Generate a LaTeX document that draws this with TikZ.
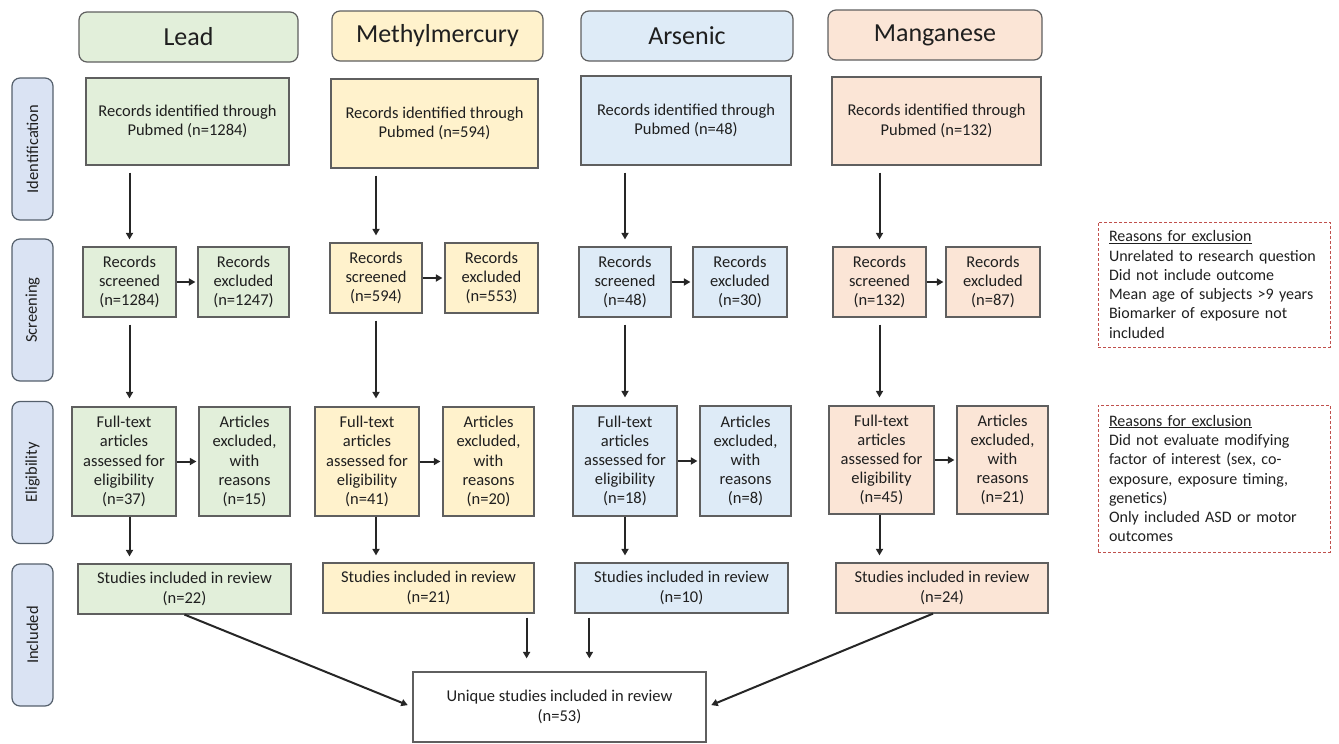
\documentclass[tikz,border=0pt]{standalone}
\usepackage{fontspec}
\setmainfont{Carlito}
\usetikzlibrary{arrows.meta}

\definecolor{leadfill}{HTML}{E2EFDA}
\definecolor{mercfill}{HTML}{FFF2CC}
\definecolor{arsfill}{HTML}{DEEBF7}
\definecolor{mangfill}{HTML}{FBE5D6}
\definecolor{sidefill}{HTML}{DAE3F3}
\definecolor{edge}{HTML}{5F5F5F}
\definecolor{sideedge}{HTML}{55606C}
\definecolor{textcol}{HTML}{1F1F1F}
\definecolor{notered}{HTML}{C0504D}

\begin{document}
\begin{tikzpicture}[x=1pt, y=-1pt,
    box/.style={draw=edge, line width=1.2pt, align=center, inner sep=2pt, text=textcol,
        font=\fontsize{16.5}{19.2}\selectfont},
    header/.style={box, rounded corners=8pt, minimum height=50pt, font=\fontsize{26}{30}\selectfont},
    side/.style={draw=sideedge, fill=sidefill, line width=1.2pt, rounded corners=8pt, rotate=90,
        minimum width=142pt, minimum height=41pt, text=textcol, font=\fontsize{16.5}{19}\selectfont},
    note/.style={draw=notered, line width=1pt, dash pattern=on 3pt off 2pt, align=left, inner xsep=11pt,
        text width=210pt, text=textcol, font=\fontsize{16}{19.3}\selectfont},
    arr/.style={-{Triangle[length=6.5pt,width=7pt]}, line width=2pt, black!85}]
    \useasboundingbox (0,0) rectangle (1339,744);

    % phase labels
    \node[side] (ident) at (32.5,149) {Identification};
    \node[side] (screen) at (32.5,310) {Screening};
    \node[side] (elig) at (32.5,472.5) {Eligibility};
    \node[side] (incl) at (32.5,635) {Included};

    % headers
    \node[header, fill=leadfill, minimum width=219pt] (leadHead) at (188.5,37) {Lead};
    \node[header, fill=mercfill, minimum width=211pt] (mercHead) at (437.5,36) {Methylmercury};
    \node[header, fill=arsfill, minimum width=212pt] (arsHead) at (687,36) {Arsenic};
    \node[header, fill=mangfill, minimum width=214pt] (mangHead) at (935,35) {Manganese};

    % lead
    \node[box, fill=leadfill, minimum width=203pt, minimum height=87pt] (leadId) at (187.5,121.5) {Records identified through\\Pubmed (n=1284)};
    \node[box, fill=leadfill, minimum width=93pt, minimum height=70pt] (leadScr) at (129.5,282) {Records\\screened\\(n=1284)};
    \node[box, fill=leadfill, minimum width=91pt, minimum height=70pt] (leadExc) at (243.5,282) {Records\\excluded\\(n=1247)};
    \node[box, fill=leadfill, minimum width=104pt, minimum height=109pt] (leadFull) at (124,461.5) {Full-text\\articles\\assessed for\\eligibility\\(n=37)};
    \node[box, fill=leadfill, minimum width=91pt, minimum height=109pt] (leadArt) at (244.5,461.5) {Articles\\excluded,\\with\\reasons\\(n=15)};
    \node[box, fill=leadfill, minimum width=213pt, minimum height=50pt] (leadInc) at (184.5,589) {Studies included in review\\(n=22)};

    % methylmercury
    \node[box, fill=mercfill, minimum width=207pt, minimum height=89pt] (mercId) at (434.5,123.5) {Records identified through\\Pubmed (n=594)};
    \node[box, fill=mercfill, minimum width=92pt, minimum height=70pt] (mercScr) at (376,278) {Records\\screened\\(n=594)};
    \node[box, fill=mercfill, minimum width=93pt, minimum height=70pt] (mercExc) at (491.5,278) {Records\\excluded\\(n=553)};
    \node[box, fill=mercfill, minimum width=104pt, minimum height=109pt] (mercFull) at (367,461.5) {Full-text\\articles\\assessed for\\eligibility\\(n=41)};
    \node[box, fill=mercfill, minimum width=91pt, minimum height=109pt] (mercArt) at (488.5,461.5) {Articles\\excluded,\\with\\reasons\\(n=20)};
    \node[box, fill=mercfill, minimum width=211pt, minimum height=50pt] (mercInc) at (428.5,588) {Studies included in review\\(n=21)};

    % arsenic
    \node[box, fill=arsfill, minimum width=210pt, minimum height=89pt] (arsId) at (686,120.5) {Records identified through\\Pubmed (n=48)};
    \node[box, fill=arsfill, minimum width=92pt, minimum height=70pt] (arsScr) at (625,282) {Records\\screened\\(n=48)};
    \node[box, fill=arsfill, minimum width=94pt, minimum height=70pt] (arsExc) at (740,282) {Records\\excluded\\(n=30)};
    \node[box, fill=arsfill, minimum width=104pt, minimum height=110pt] (arsFull) at (625,461) {Full-text\\articles\\assessed for\\eligibility\\(n=18)};
    \node[box, fill=arsfill, minimum width=91pt, minimum height=110pt] (arsArt) at (745.5,461) {Articles\\excluded,\\with\\reasons\\(n=8)};
    \node[box, fill=arsfill, minimum width=213pt, minimum height=50pt] (arsInc) at (681.5,588) {Studies included in review\\(n=10)};

    % manganese
    \node[box, fill=mangfill, minimum width=209pt, minimum height=88pt] (mangId) at (936.5,121) {Records identified through\\Pubmed (n=132)};
    \node[box, fill=mangfill, minimum width=93pt, minimum height=70pt] (mangScr) at (879.5,282) {Records\\screened\\(n=132)};
    \node[box, fill=mangfill, minimum width=94pt, minimum height=70pt] (mangExc) at (993,282) {Records\\excluded\\(n=87)};
    \node[box, fill=mangfill, minimum width=105pt, minimum height=108pt] (mangFull) at (881.5,460) {Full-text\\articles\\assessed for\\eligibility\\(n=45)};
    \node[box, fill=mangfill, minimum width=91pt, minimum height=108pt] (mangArt) at (1002.5,460) {Articles\\excluded,\\with\\reasons\\(n=21)};
    \node[box, fill=mangfill, minimum width=212pt, minimum height=50pt] (mangInc) at (942,588) {Studies included in review\\(n=24)};

    % final box
    \node[box, fill=white, minimum width=293pt, minimum height=70pt] (uniq) at (559.5,707) {Unique studies included in review\\(n=53)};

    % reasons
    \node[note, minimum height=125pt] (noteScr) at (1214,284.5) {\underline{Reasons for exclusion}\\Unrelated to research question\\Did not include outcome\\Mean age of subjects >9 years\\Biomarker of exposure not\\included};
    \node[note, minimum height=147pt] (noteElig) at (1214,478.5) {\underline{Reasons for exclusion}\\Did not evaluate modifying\\factor of interest (sex, co-\\exposure, exposure timing,\\genetics)\\Only included ASD or motor\\outcomes};

    % arrows, one column at a time
    \foreach \m in {lead, merc, ars, mang} {
        \draw[arr, shorten <=7pt, shorten >=7pt] (\m Id.south -| \m Scr.north) -- (\m Scr.north);
        \draw[arr, shorten >=2pt] (\m Scr.east) -- (\m Exc.west);
        \draw[arr, shorten <=7pt, shorten >=8pt] (\m Scr.south) -- (\m Scr.south |- \m Full.north);
        \draw[arr, shorten >=2pt] (\m Full.east) -- (\m Full.east -| \m Art.west);
        \draw[arr, shorten >=7pt] (\m Full.south -| \m Scr.south) -- (\m Scr.south |- \m Inc.north);
    }
    \draw[arr, shorten >=5pt] (leadInc.south) -- (uniq.west);
    \draw[arr, shorten <=4pt, shorten >=13pt] ([xshift=-8pt]mercInc.south east) -- ([xshift=-8pt]mercInc.south east |- uniq.north);
    \draw[arr, shorten <=4pt, shorten >=13pt] ([xshift=15pt]arsInc.south west) -- ([xshift=15pt]arsInc.south west |- uniq.north);
    \draw[arr, shorten >=5pt] ([xshift=-9pt]mangInc.south) -- (uniq.east);
\end{tikzpicture}
\end{document}
